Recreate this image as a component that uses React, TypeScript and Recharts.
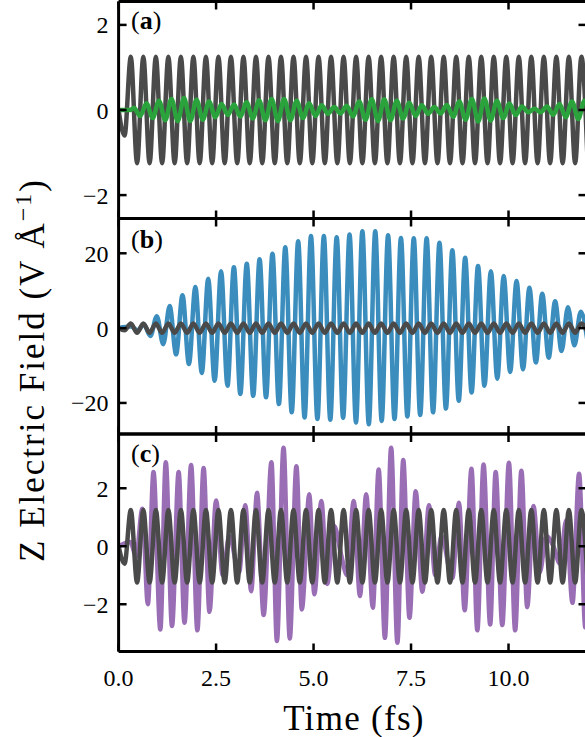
import React from 'react';
import { LineChart, Line, XAxis, YAxis } from 'recharts';

// ---------------- data ----------------
const timeTicks = [0, 2.5, 5, 7.5, 10];
const ticksA = [-2, 0, 2];
const ticksB = [-20, 0, 20];
const ticksC = [-2, 0, 2];

// driving field (gray), extrema times (fs) and values (V/Å)
const grayT = [0, 0.153, 0.313, 0.474, 0.634, 0.795, 0.955, 1.116, 1.276, 1.437, 1.597, 1.758, 1.918, 2.079, 2.239, 2.4, 2.56, 2.721, 2.881, 3.042, 3.202, 3.363, 3.523, 3.684, 3.844, 4.005, 4.165, 4.326, 4.486, 4.647, 4.807, 4.968, 5.128, 5.289, 5.449, 5.61, 5.77, 5.931, 6.091, 6.252, 6.412, 6.573, 6.733, 6.894, 7.054, 7.215, 7.375, 7.536, 7.696, 7.857, 8.017, 8.178, 8.338, 8.499, 8.659, 8.82, 8.98, 9.141, 9.301, 9.462, 9.622, 9.783, 9.943, 10.104, 10.264, 10.425, 10.585, 10.746, 10.906, 11.067, 11.227, 11.388, 11.548, 11.709, 11.869, 12.03];
const grayV = [0, -0.6, 1.25, -1.25, 1.25, -1.25, 1.25, -1.25, 1.25, -1.25, 1.25, -1.25, 1.25, -1.25, 1.25, -1.25, 1.25, -1.25, 1.25, -1.25, 1.25, -1.25, 1.25, -1.25, 1.25, -1.25, 1.25, -1.25, 1.25, -1.25, 1.25, -1.25, 1.25, -1.25, 1.25, -1.25, 1.25, -1.25, 1.25, -1.25, 1.25, -1.25, 1.25, -1.25, 1.25, -1.25, 1.25, -1.25, 1.25, -1.25, 1.25, -1.25, 1.25, -1.25, 1.25, -1.25, 1.25, -1.25, 1.25, -1.25, 1.25, -1.25, 1.25, -1.25, 1.25, -1.25, 1.25, -1.25, 1.25, -1.25, 1.25, -1.25, 1.25, -1.25, 1.25, -1.25];

// panel (a) response (green)
const greenT = [0, 0.3, 0.393, 0.554, 0.714, 0.875, 1.035, 1.196, 1.356, 1.517, 1.677, 1.838, 1.998, 2.159, 2.319, 2.48, 2.64, 2.801, 2.961, 3.122, 3.282, 3.443, 3.603, 3.764, 3.924, 4.085, 4.245, 4.406, 4.566, 4.727, 4.887, 5.048, 5.208, 5.369, 5.529, 5.69, 5.85, 6.011, 6.171, 6.332, 6.492, 6.653, 6.813, 6.974, 7.134, 7.295, 7.455, 7.616, 7.776, 7.937, 8.097, 8.258, 8.418, 8.579, 8.739, 8.9, 9.06, 9.221, 9.381, 9.542, 9.702, 9.863, 10.023, 10.184, 10.344, 10.505, 10.665, 10.826, 10.986, 11.147, 11.307, 11.468, 11.628, 11.789, 11.949, 12.11];
const greenV = [0, 0, 0.05, -0.14, 0.16, -0.19, 0.22, -0.24, 0.26, -0.26, 0.28, -0.26, 0.24, -0.23, 0.2, -0.17, 0.14, -0.12, 0.13, -0.15, 0.18, -0.2, 0.23, -0.24, 0.26, -0.26, 0.26, -0.24, 0.22, -0.19, 0.16, -0.14, 0.11, -0.09, 0.07, -0.08, 0.1, -0.15, 0.2, -0.23, 0.25, -0.26, 0.25, -0.24, 0.22, -0.2, 0.17, -0.14, 0.11, -0.09, 0.07, -0.08, 0.12, -0.16, 0.2, -0.23, 0.26, -0.27, 0.27, -0.25, 0.22, -0.19, 0.15, -0.12, 0.08, -0.05, 0.03, -0.05, 0.08, -0.11, 0.14, -0.17, 0.2, -0.21, 0.22, -0.22];

// panel (b) response (blue)
const blueT = [0, 0.32, 0.49, 0.65, 0.815, 0.98, 1.145, 1.31, 1.475, 1.639, 1.804, 1.969, 2.134, 2.298, 2.463, 2.628, 2.793, 2.957, 3.122, 3.287, 3.452, 3.616, 3.781, 3.946, 4.111, 4.275, 4.44, 4.605, 4.77, 4.934, 5.099, 5.264, 5.429, 5.593, 5.758, 5.923, 6.088, 6.252, 6.417, 6.582, 6.747, 6.911, 7.076, 7.241, 7.406, 7.57, 7.735, 7.9, 8.065, 8.229, 8.394, 8.559, 8.724, 8.888, 9.053, 9.218, 9.383, 9.547, 9.712, 9.877, 10.042, 10.206, 10.371, 10.536, 10.701, 10.865, 11.03, 11.195, 11.36, 11.524, 11.689, 11.854, 12.019];
const blueV = [0, 0.4, -0.6, 1.0, -2.1, 3.2, -4.3, 5.9, -7.0, 8.8, -9.6, 11.0, -12.0, 13.2, -14.1, 15.2, -15.4, 16.3, -17.6, 17.2, -18.1, 18.4, -18.5, 19.9, -20.3, 21.6, -22.5, 23.2, -23.9, 24.6, -24.3, 24.6, -24.5, 24.3, -24.0, 25.0, -25.2, 25.9, -25.7, 25.9, -24.8, 24.8, -24.3, 24.1, -23.6, 24.0, -23.2, 24.0, -22.5, 22.8, -21.5, 20.8, -19.4, 18.8, -17.2, 16.6, -15.4, 15.2, -13.5, 13.9, -11.7, 12.6, -11.0, 10.8, -9.2, 9.2, -7.9, 7.2, -6.1, 5.6, -4.6, 4.4, -3.0];

// panel (c) response (purple)
const purpleT = [0, 0.3, 0.45, 0.61, 0.75, 0.895, 1.07, 1.21, 1.37, 1.54, 1.69, 1.86, 2.02, 2.18, 2.33, 2.5, 2.67, 2.84, 3.09, 3.25, 3.4, 3.55, 3.72, 3.92, 4.06, 4.23, 4.39, 4.56, 4.7, 4.89, 5.02, 5.2, 5.35, 5.53, 5.7, 5.86, 6.03, 6.19, 6.35, 6.52, 6.67, 6.83, 6.99, 7.15, 7.3, 7.46, 7.62, 7.79, 7.96, 8.12, 8.28, 8.56, 8.73, 8.875, 9.05, 9.2, 9.36, 9.53, 9.67, 9.84, 10.01, 10.17, 10.33, 10.48, 10.64, 10.8, 10.97, 11.15, 11.32, 11.48, 11.64, 11.81, 11.97, 12.13];
const purpleV = [0, 0.15, -0.35, 1.29, -2.0, 2.56, -2.87, 2.9, -2.75, 2.56, -2.64, 2.8, -2.9, 2.7, -2.26, 1.58, -1.0, 0.35, -0.9, 1.41, -1.55, 1.84, -2.37, 2.9, -3.27, 3.4, -3.18, 2.76, -2.18, 1.79, -1.66, 1.56, -1.3, 0.7, -0.25, -1.0, 1.56, -1.72, 1.79, -2.12, 2.65, -3.16, 3.4, -3.33, 2.97, -2.47, 1.9, -1.57, 1.41, -1.0, 0.35, -1.1, 1.5, -2.21, 2.67, -2.9, 2.82, -2.7, 2.56, -2.72, 2.88, -2.9, 2.6, -2.1, 1.39, -0.9, 0.35, 0.0, -0.6, 0.9, -1.95, 2.5, -2.8, 2.9];

const toPoints = (ts: number[], vs: number[]) => ts.map((t, i) => ({ t, v: vs[i] }));

// ---------------- layout ----------------
const W = 600;
const H = 737;
const LEFT = 118.6;
const RIGHT = 586.5;
const YW = 100;
const LABEL_H = 60;
const FONT = '"Liberation Serif", "DejaVu Serif", serif';
const GRAY = '#4a4a4a';

const fmtY = (v: number) => (v < 0 ? '\u2212' + Math.abs(v) : String(v));
const fmtX = (v: number) => v.toFixed(1);
const NoLabel = () => <g />;

type Series = { points: { t: number; v: number }[]; color: string; width: number };

function Panel(props: {
  top: number;
  bottom: number;
  domain: [number, number];
  ticks: number[];
  series: Series[];
  xLabels?: boolean;
}) {
  const { top, bottom, domain, ticks, series, xLabels } = props;
  const margin = {
    top,
    left: LEFT - YW,
    right: W - RIGHT,
    bottom: H - bottom - (xLabels ? LABEL_H : 0),
  };
  const spine = { stroke: '#000', strokeWidth: 3 };
  const tl = { stroke: '#000', strokeWidth: 2.5 };
  const tickFont = { fill: '#000', fontSize: 24, fontFamily: FONT };
  return (
    <div style={{ position: 'absolute', left: 0, top: 0 }}>
      <LineChart width={W} height={H} margin={margin}>
        <XAxis xAxisId="x" type="number" dataKey="t" domain={[0, 12]} ticks={timeTicks} allowDataOverflow
          orientation="bottom" mirror tick={NoLabel} tickSize={8} axisLine={spine} tickLine={tl} />
        <XAxis xAxisId="xt" type="number" dataKey="t" domain={[0, 12]} ticks={timeTicks} allowDataOverflow
          orientation="top" mirror tick={NoLabel} tickSize={8} axisLine={spine} tickLine={tl} />
        {xLabels && (
          <XAxis xAxisId="xl" type="number" dataKey="t" domain={[0, 12]} ticks={timeTicks} allowDataOverflow
            orientation="bottom" height={LABEL_H} tickLine={false} axisLine={false} tickSize={0} tickMargin={17}
            tick={tickFont} tickFormatter={fmtX} />
        )}
        <YAxis yAxisId="y" type="number" domain={domain} ticks={ticks} allowDataOverflow width={YW}
          tickLine={false} axisLine={false} tickSize={0} tickMargin={10} tick={tickFont} tickFormatter={fmtY} />
        <YAxis yAxisId="yl" type="number" domain={domain} ticks={ticks} allowDataOverflow
          orientation="left" mirror tick={NoLabel} tickSize={8} axisLine={spine} tickLine={tl} />
        <YAxis yAxisId="yr" type="number" domain={domain} ticks={ticks} allowDataOverflow
          orientation="right" mirror tick={NoLabel} tickSize={8} axisLine={spine} tickLine={tl} />
        {series.map((s, i) => (
          <Line key={i} xAxisId="x" yAxisId="y" data={s.points} dataKey="v" type="monotone"
            stroke={s.color} strokeWidth={s.width} dot={false} activeDot={false} isAnimationActive={false} />
        ))}
      </LineChart>
    </div>
  );
}

export default function App() {
  const gray = toPoints(grayT, grayV);
  return (
    <div style={{ position: 'absolute', left: 0, top: 0, width: 585, height: 737, overflow: 'hidden', background: '#fff' }}>
      <Panel top={1.5} bottom={218.5} domain={[-2.55, 2.55]} ticks={ticksA}
        series={[
          { points: gray, color: GRAY, width: 4.5 },
          { points: toPoints(greenT, greenV), color: '#2aa33c', width: 4.5 },
        ]} />
      <Panel top={218.5} bottom={434} domain={[-28.3, 29.3]} ticks={ticksB}
        series={[
          { points: toPoints(blueT, blueV), color: '#3a8dbc', width: 4.5 },
          { points: gray, color: GRAY, width: 4.5 },
        ]} />
      <Panel top={434} bottom={651.5} domain={[-3.63, 3.87]} ticks={ticksC} xLabels
        series={[
          { points: toPoints(purpleT, purpleV), color: '#9a6eb5', width: 4.5 },
          { points: gray, color: GRAY, width: 4.5 },
        ]} />
      <svg width={585} height={737} style={{ position: 'absolute', left: 0, top: 0, pointerEvents: 'none' }}>
        <g fontFamily={FONT} fontSize={26} fill="#000">
          <text x={131} y={29}>(<tspan fontWeight="bold">a</tspan>)</text>
          <text x={131} y={248}>(<tspan fontWeight="bold">b</tspan>)</text>
          <text x={131} y={462}>(<tspan fontWeight="bold">c</tspan>)</text>
        </g>
        <text transform="translate(44,370) rotate(-90)" textAnchor="middle" fontFamily={FONT} fontSize={35}
          letterSpacing={2} fill="#000">
          Z Electric Field (V Å<tspan dy={-13} fontSize={24}>−1</tspan><tspan dy={13}>)</tspan>
        </text>
        <text x={354} y={730} textAnchor="middle" fontFamily={FONT} fontSize={35} letterSpacing={1.3} fill="#000">
          Time (fs)
        </text>
      </svg>
    </div>
  );
}
